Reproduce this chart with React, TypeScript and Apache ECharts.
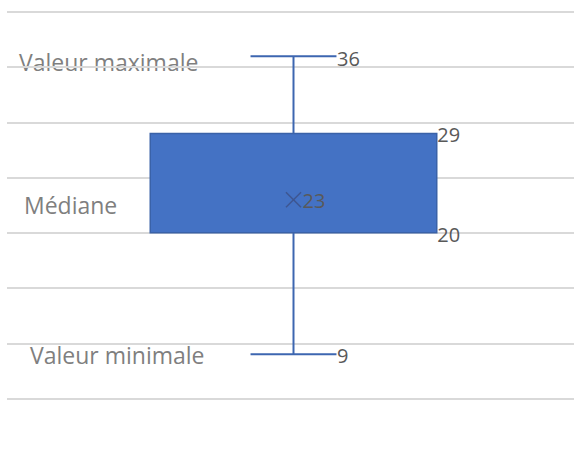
import React, { useEffect, useRef } from "react";
import * as echarts from "echarts";

const categories = ["Série 1"];
const minValues = [9];
const q1Values = [20];
const meanValues = [23];
const q3Values = [29];
const maxValues = [36];
const yTicks = { min: 5, max: 40, interval: 5 };
const annotations = ["Valeur maximale", "Médiane", "Valeur minimale"];

const FONT = "'Open Sans', 'Noto Sans', sans-serif";

export default function App() {
  const ref = useRef<HTMLDivElement>(null);
  useEffect(() => {
    if (!ref.current) return;
    const chart = echarts.init(ref.current, undefined, { renderer: "svg" });
    const data = categories.map((_, i) => [
      i,
      minValues[i],
      q1Values[i],
      meanValues[i],
      q3Values[i],
      maxValues[i],
    ]);
    const numStyle = (text: string, x: number, y: number) => ({
      type: "text",
      x,
      y,
      style: {
        text,
        fill: "#595959",
        fontSize: 20,
        fontFamily: FONT,
        align: "left",
        verticalAlign: "middle",
        textAlign: "left",
        textVerticalAlign: "middle",
      },
      z2: 20,
    });
    const annot = (text: string, x: number, y: number) => ({
      type: "text",
      x,
      y,
      style: {
        text,
        fill: "#7f7f7f",
        fontSize: 23,
        fontFamily: FONT,
        align: "left",
        verticalAlign: "middle",
        textAlign: "left",
        textVerticalAlign: "middle",
      },
    });
    chart.setOption({
      animation: false,
      grid: { left: 7, top: 12, right: 0, height: 386.5 },
      xAxis: {
        type: "category",
        data: categories,
        show: false,
      },
      yAxis: {
        type: "value",
        min: yTicks.min,
        max: yTicks.max,
        interval: yTicks.interval,
        axisLabel: { show: false },
        axisLine: { show: false },
        axisTick: { show: false },
        splitLine: { lineStyle: { color: "#d9d9d9", width: 2 } },
      },
      graphic: [
        annot(annotations[0], 19, 62),
        annot(annotations[1], 24, 205),
        annot(annotations[2], 30, 355),
      ],
      series: [
        {
          type: "custom",
          data,
          renderItem: (params: any, api: any) => {
            const cat = api.value(0);
            const vMin = api.value(1);
            const vQ1 = api.value(2);
            const vMean = api.value(3);
            const vQ3 = api.value(4);
            const vMax = api.value(5);
            const band = api.size([1, 0])[0];
            const pMin = api.coord([cat, vMin]);
            const pQ1 = api.coord([cat, vQ1]);
            const pMean = api.coord([cat, vMean]);
            const pQ3 = api.coord([cat, vQ3]);
            const pMax = api.coord([cat, vMax]);
            const cx = pMin[0];
            const boxW = band * 0.5;
            const capW = band * 0.15;
            const lineStyle = { stroke: "#3d66b0", lineWidth: 2 };
            const m = 7.5;
            return {
              type: "group",
              children: [
                { type: "line", shape: { x1: cx, y1: pMax[1], x2: cx, y2: pQ3[1] }, style: lineStyle },
                { type: "line", shape: { x1: cx, y1: pQ1[1], x2: cx, y2: pMin[1] }, style: lineStyle },
                { type: "line", shape: { x1: cx - capW / 2, y1: pMax[1], x2: cx + capW / 2, y2: pMax[1] }, style: lineStyle },
                { type: "line", shape: { x1: cx - capW / 2, y1: pMin[1], x2: cx + capW / 2, y2: pMin[1] }, style: lineStyle },
                {
                  type: "rect",
                  shape: { x: cx - boxW / 2, y: pQ3[1], width: boxW, height: pQ1[1] - pQ3[1] },
                  style: { fill: "#4472c4", stroke: "#3a62a8", lineWidth: 1.5 },
                },
                { type: "line", shape: { x1: cx - m, y1: pMean[1] - m, x2: cx + m, y2: pMean[1] + m }, style: { stroke: "#3e5690", lineWidth: 1.5 }, z2: 15 },
                { type: "line", shape: { x1: cx - m, y1: pMean[1] + m, x2: cx + m, y2: pMean[1] - m }, style: { stroke: "#3e5690", lineWidth: 1.5 }, z2: 15 },
                numStyle(String(vMean), cx + 9, pMean[1] + 1),
                numStyle(String(vMax), cx + capW / 2 + 0.5, pMax[1] + 2),
                numStyle(String(vMin), cx + capW / 2 + 0.5, pMin[1] + 1),
                numStyle(String(vQ3), cx + boxW / 2 + 0.5, pQ3[1] + 1.5),
                numStyle(String(vQ1), cx + boxW / 2 + 0.5, pQ1[1] + 1.5),
              ],
            };
          },
        },
      ],
    });
    return () => chart.dispose();
  }, []);
  return (
    <div
      ref={ref}
      style={{ position: "fixed", left: 0, top: 0, width: 580, height: 452, background: "#fff" }}
    />
  );
}
